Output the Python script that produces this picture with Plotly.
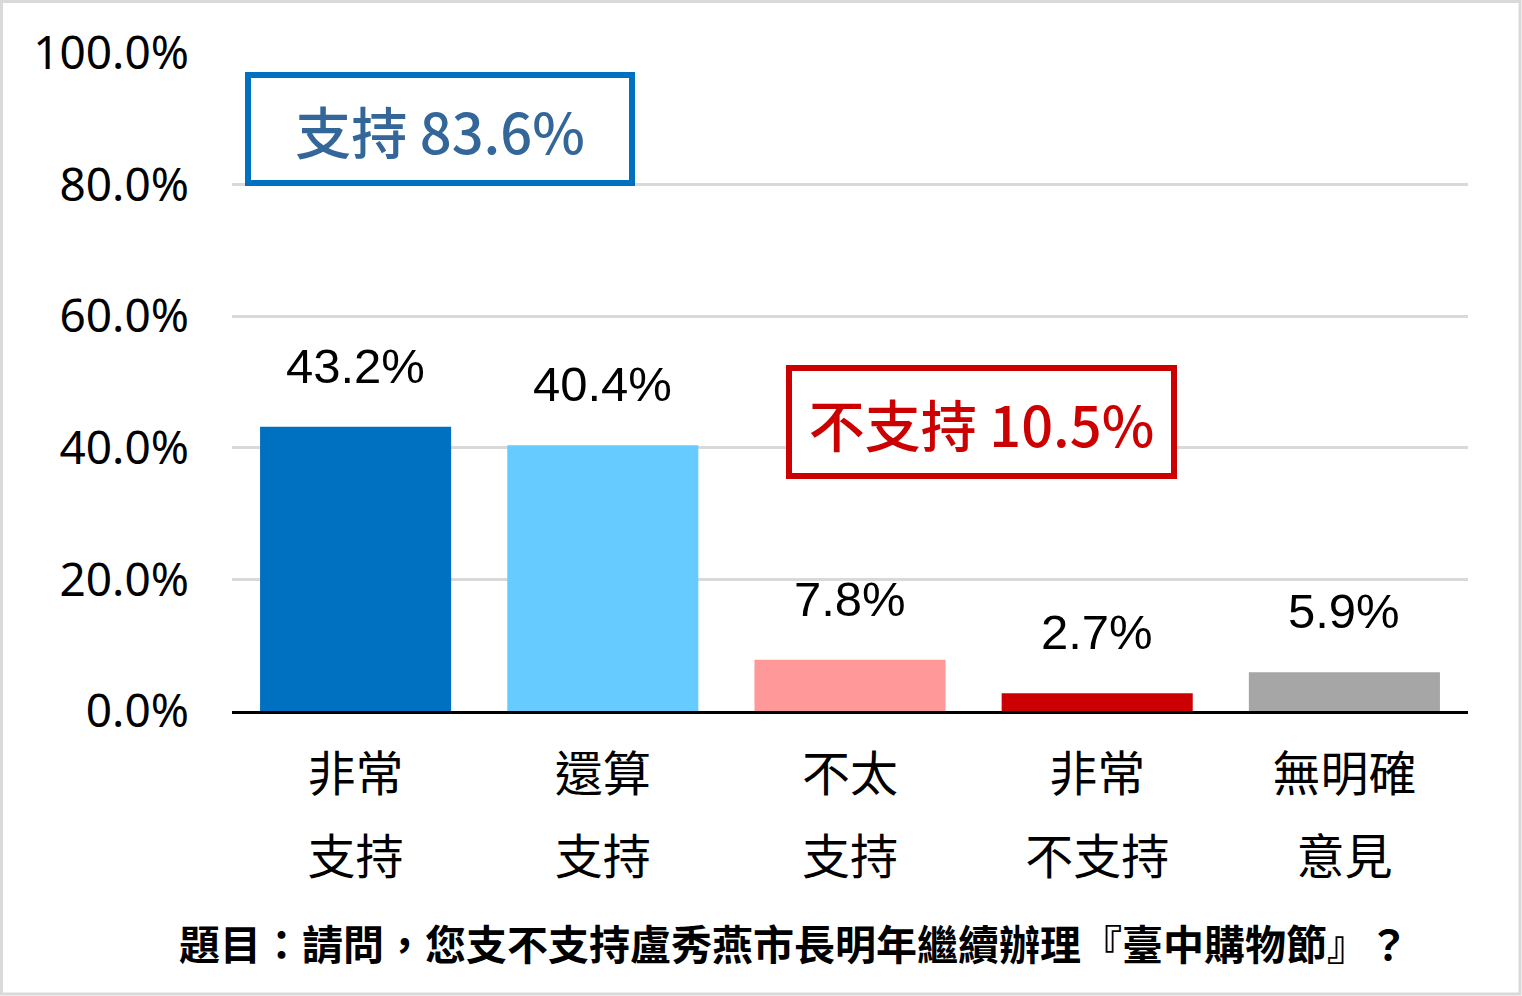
import plotly.graph_objects as go

# 題目：支持度調查
categories = ["非常支持", "還算支持", "不太支持", "非常不支持", "無明確意見"]
tick_lines = [("非常", "支持"), ("還算", "支持"), ("不太", "支持"), ("非常", "不支持"), ("無明確", "意見")]
values = [43.2, 40.4, 7.8, 2.7, 5.9]
bar_colors = ["#0070C0", "#66CCFF", "#FF9999", "#CC0000", "#A6A6A6"]

support_text = "支持 83.6%"
oppose_text = "不支持 10.5%"
question = "題目：請問，您支不支持盧秀燕市長明年繼續辦理『臺中購物節』？"

W, H = 1522, 996
L, R, T, B = 232, 54, 53, 285
pw, ph = W - L - R, H - T - B


def px_to_paper(x, y):
    return (x - L) / pw, (H - B - y) / ph


span = "<span style='font-size:48px'>{}</span>"
ticktext = ["<br>".join(span.format(s) for s in pair) for pair in tick_lines]

fig = go.Figure(
    go.Bar(
        x=categories,
        y=values,
        marker=dict(color=bar_colors, line=dict(width=0)),
        hoverinfo="skip",
    )
)

# 數值標籤
for c, v in zip(categories, values):
    fig.add_annotation(
        x=c, y=v, xref="x", yref="y",
        text=f"{v:.1f}%", showarrow=False,
        yanchor="middle", yshift=61,
        font=dict(family="Liberation Sans, Arial", size=49, color="black"),
    )

# 支持 / 不支持 框
bx, by = px_to_paper(440, 129)
fig.add_annotation(
    x=bx, y=by, xref="paper", yref="paper", text=support_text, showarrow=False,
    xanchor="center", yanchor="middle", width=378, height=102,
    bordercolor="#0070C0", borderwidth=6, borderpad=0, bgcolor="white",
    font=dict(family="Noto Sans CJK TC", size=56, color="#336699", weight=500),
)
bx, by = px_to_paper(981.5, 422)
fig.add_annotation(
    x=bx, y=by, xref="paper", yref="paper", text=oppose_text, showarrow=False,
    xanchor="center", yanchor="middle", width=379, height=102,
    bordercolor="#CC0000", borderwidth=6, borderpad=0, bgcolor="white",
    font=dict(family="Noto Sans CJK TC", size=56, color="#CC0000", weight=500),
)

# 題目
qx, qy = px_to_paper(794, 942)
fig.add_annotation(
    x=qx, y=qy, xref="paper", yref="paper", text=f"<b>{question}</b>", showarrow=False,
    xanchor="center", yanchor="middle",
    font=dict(family="Noto Sans CJK TC", size=41, color="black"),
)

# 外框
x0, y0 = px_to_paper(1.5, 1.5)
x1, y1 = px_to_paper(W - 2, H - 2)
fig.add_shape(
    type="rect", xref="paper", yref="paper", x0=x0, x1=x1, y0=y1, y1=y0,
    line=dict(color="#D9D9D9", width=3), layer="below",
)

fig.update_layout(
    width=W, height=H,
    margin=dict(l=L, r=R, t=T, b=B, autoexpand=False),
    paper_bgcolor="white", plot_bgcolor="white",
    bargap=0.227, showlegend=False,
    font=dict(family="Noto Sans CJK TC", color="black"),
)
fig.update_xaxes(
    tickvals=categories, ticktext=ticktext,
    tickfont=dict(family="Noto Sans CJK TC", size=64, color="black"),
    showline=True, linecolor="black", linewidth=3, ticks="",
    showgrid=False, fixedrange=True,
)
fig.update_yaxes(
    range=[0, 100], dtick=20, tickformat=".1f", ticksuffix="%",
    tickfont=dict(family="Noto Sans", size=46, color="black"),
    showgrid=True, gridcolor="#D9D9D9", gridwidth=3, zeroline=False,
    ticks="", ticklabelstandoff=42, fixedrange=True,
)

fig.write_html(
    "out.html",
    config={"displayModeBar": False},
    post_script="document.body.style.margin='0';",
)
